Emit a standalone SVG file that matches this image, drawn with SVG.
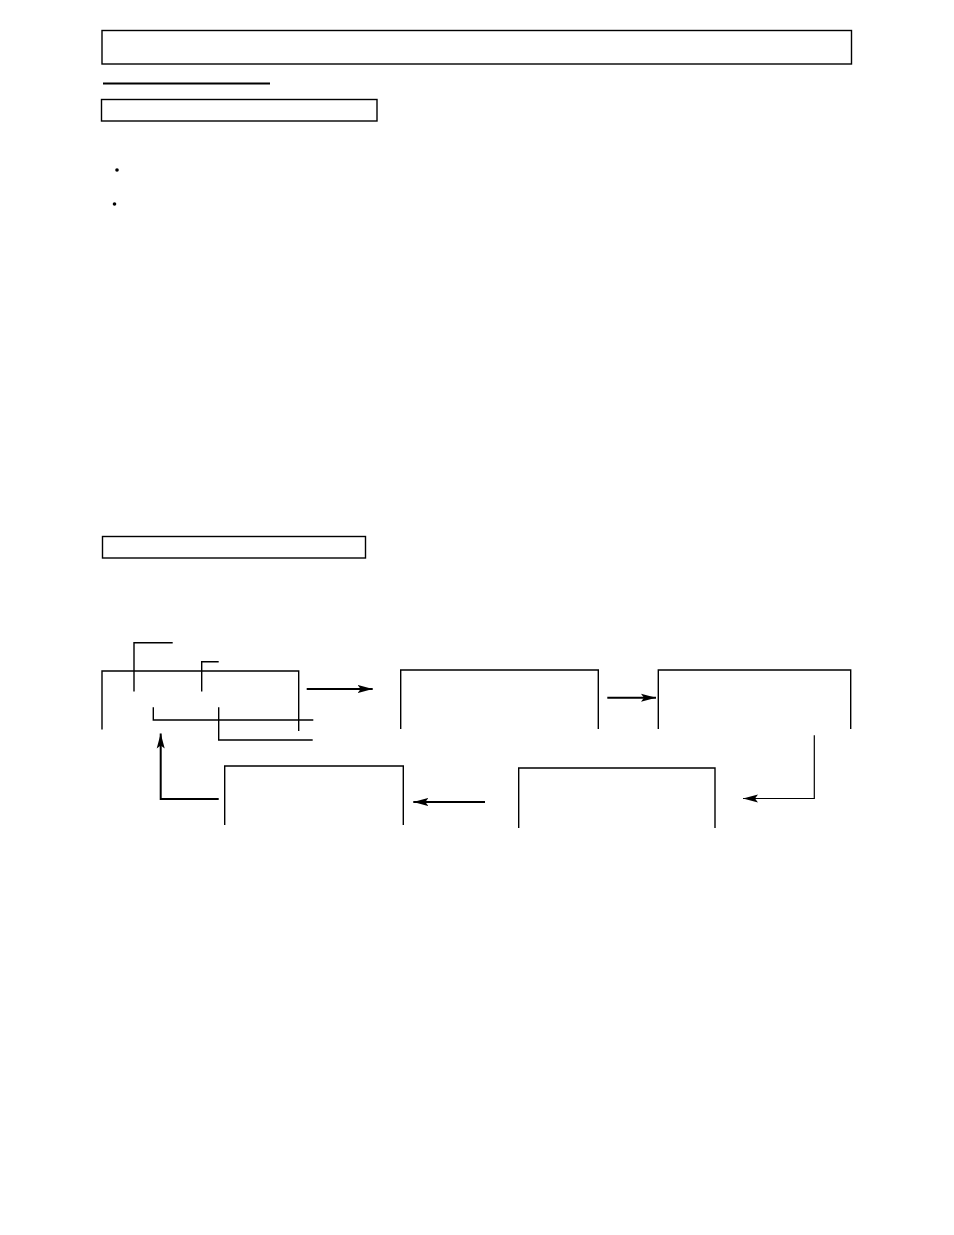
<svg xmlns="http://www.w3.org/2000/svg" width="954" height="1235" viewBox="0 0 954 1235">
<style>
.box{fill:none;stroke:#000;stroke-width:1.4}
.open{fill:none;stroke:#000;stroke-width:1.4}
.thin{fill:none;stroke:#000;stroke-width:1.2}
.arr{fill:none;stroke:#000;stroke-width:2}
</style>
<defs>
<marker id="ah" markerUnits="userSpaceOnUse" markerWidth="16" markerHeight="10" refX="15" refY="5" orient="auto">
<path d="M0,1 L15,5 L0,9 L3,5 Z" fill="#000"/>
</marker>
</defs>
<rect width="954" height="1235" fill="#fff"/>
<g id="header">
<rect class="box" x="102" y="30.5" width="749.5" height="33.5"/>
<line x1="103" y1="83.5" x2="270" y2="83.5" stroke="#000" stroke-width="2"/>
<rect class="box" x="101.5" y="99.5" width="275.5" height="21.5"/>
<circle cx="117" cy="170" r="1.8" fill="#000"/>
<circle cx="114.5" cy="204" r="1.8" fill="#000"/>
<rect class="box" x="102.5" y="536.5" width="263" height="21.5"/>
</g>
<g id="nodeA">
<path class="open" d="M102,729.5 V671 H298.7 V731"/>
<path class="open" d="M134,691.5 V642.7 H172.7"/>
<path class="open" d="M201.7,691.5 V661.7 H218.7"/>
</g>
<g id="nodeB">
<path class="open" d="M400.7,729 V670 H598.3 V729"/>
</g>
<g id="nodeC">
<path class="open" d="M658.3,729 V670 H850.7 V729"/>
</g>
<g id="nodeD">
<path class="open" d="M518.7,828 V768 H715 V828"/>
</g>
<g id="nodeE">
<path class="open" d="M224.7,825 V766 H403.3 V825"/>
</g>
<g id="connectors">
<path class="open" d="M153.3,707.3 V720 H313.3"/>
<path class="open" d="M218.7,707.3 V740 H312.7"/>
<line class="arr" x1="306.7" y1="689" x2="372.7" y2="689" marker-end="url(#ah)"/>
<line class="arr" x1="607.3" y1="697.7" x2="656" y2="697.7" marker-end="url(#ah)"/>
<path class="thin" d="M814.3,735.3 V798.5 H743" marker-end="url(#ah)"/>
<line class="arr" x1="485" y1="802" x2="413.3" y2="802" marker-end="url(#ah)"/>
<path class="arr" d="M218.7,799 H160.7 V733.5" marker-end="url(#ah)"/>
</g>
</svg>
